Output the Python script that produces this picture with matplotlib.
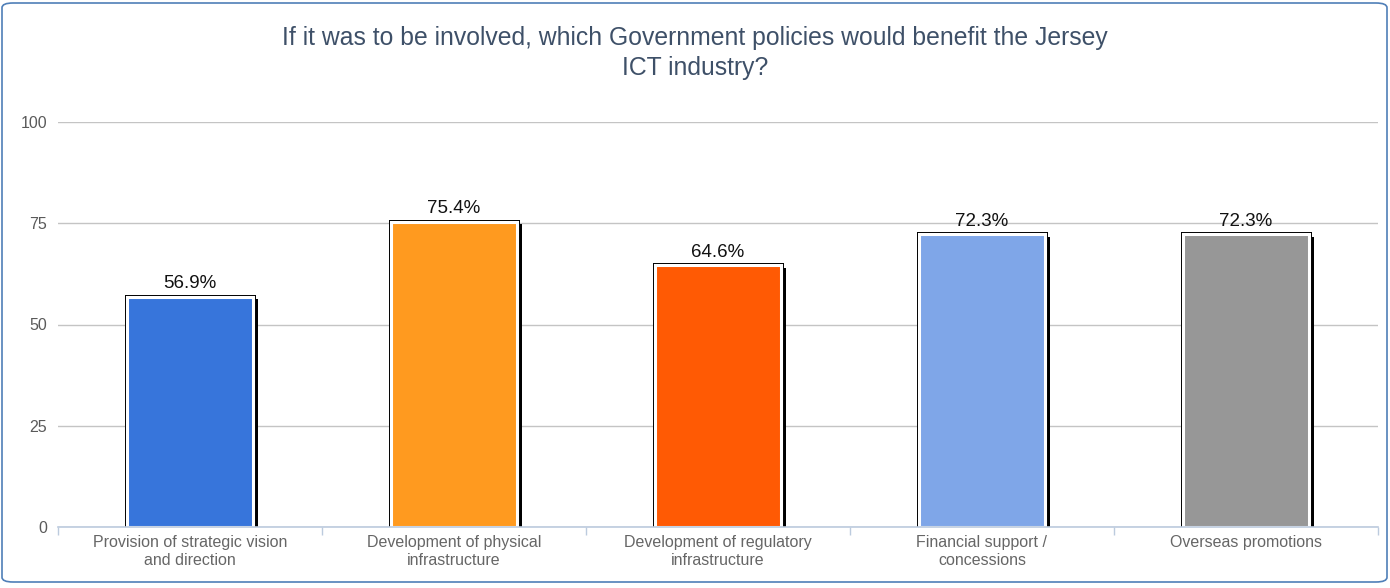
import matplotlib.pyplot as plt
import matplotlib.patheffects as pe
from matplotlib.patches import FancyBboxPatch

plt.rcParams['font.family'] = ['Liberation Sans', 'DejaVu Sans']

categories = [
    "Provision of strategic vision\nand direction",
    "Development of physical\ninfrastructure",
    "Development of regulatory\ninfrastructure",
    "Financial support /\nconcessions",
    "Overseas promotions",
]
values = [56.9, 75.4, 64.6, 72.3, 72.3]
labels = ["56.9%", "75.4%", "64.6%", "72.3%", "72.3%"]
colors = ["#3775db", "#ff9a1f", "#ff5a04", "#7fa6e8", "#979797"]
yticks = [0, 25, 50, 75, 100]
title_lines = [
    "If it was to be involved, which Government policies would benefit the Jersey",
    "ICT industry?",
]

W, H = 1390, 588
fig = plt.figure(figsize=(W / 100, H / 100), dpi=100)

# rounded frame around the whole chart
frame = FancyBboxPatch((2 / W, 6 / H), (W - 5) / W, (H - 9) / H,
                       boxstyle="round,pad=0,rounding_size=0.008",
                       transform=fig.transFigure, facecolor="white",
                       edgecolor="#4f7fb8", linewidth=1.2, zorder=-5)
fig.patches.append(frame)

for i, line in enumerate(title_lines):
    fig.text(0.5, 1 - (45 + 30.5 * i) / H, line, ha="center", va="baseline",
             fontsize=17.8, color="#3e5068")

ax = fig.add_axes([58 / W, 61 / H, 1320 / W, 405 / H])
ax.set_facecolor("none")

x = list(range(len(values)))
bars = ax.bar(x, values, width=0.48, color=colors, edgecolor="white",
              linewidth=2.2, zorder=3)
for b in bars:
    b.set_path_effects([
        pe.SimplePatchShadow(offset=(3, -2), shadow_rgbFace="black", alpha=1.0),
        pe.Stroke(linewidth=3.6, foreground="black"),
        pe.Normal(),
    ])

for xi, v, lab in zip(x, values, labels):
    ax.annotate(lab, (xi, v), xytext=(0, 3), textcoords="offset points",
                ha="center", va="bottom", fontsize=13.5, color="#111111")

ax.set_xlim(-0.5, len(values) - 0.5)
ax.set_ylim(0, 100)
ax.set_yticks(yticks)
ax.yaxis.grid(True, color="#c4c4c4", linewidth=1)
ax.set_axisbelow(True)
ax.tick_params(axis="y", length=0, pad=8, labelsize=11.5, labelcolor="#5a5a5a")

ax.set_xticks(x)
ax.set_xticklabels(categories, linespacing=1.25)
ax.tick_params(axis="x", which="major", length=0, pad=6, labelsize=11.5, labelcolor="#666666")
ax.set_xticks([i - 0.5 for i in range(len(values) + 1)], minor=True)
ax.tick_params(axis="x", which="minor", length=6, color="#bccbde", width=1)

for side in ["left", "right", "top"]:
    ax.spines[side].set_visible(False)
ax.spines["bottom"].set_color("#bccbde")
ax.spines["bottom"].set_linewidth(1.2)
ax.spines["bottom"].set_zorder(4)

fig.savefig("out.png", dpi=100)
